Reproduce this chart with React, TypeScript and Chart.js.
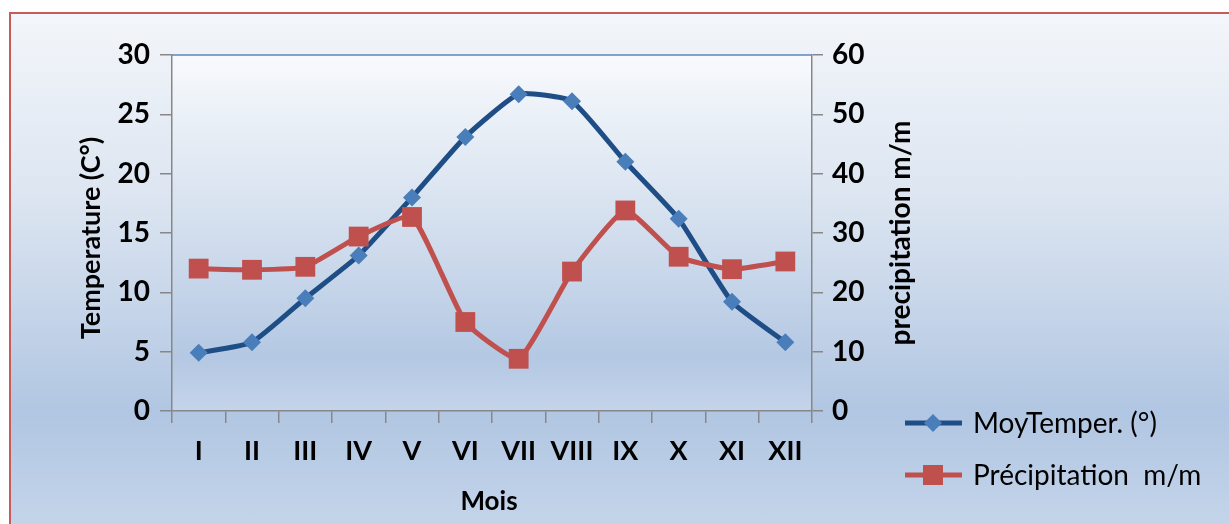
import React, { useEffect, useRef } from "react";
import { Chart, registerables } from "chart.js";

Chart.register(...registerables);

const months = ["I", "II", "III", "IV", "V", "VI", "VII", "VIII", "IX", "X", "XI", "XII"];
const temperature = [4.9, 5.8, 9.5, 13.1, 18.0, 23.1, 26.7, 26.1, 21.0, 16.2, 9.2, 5.8];
const precipitation = [24.0, 23.8, 24.3, 29.4, 32.7, 15.0, 8.8, 23.5, 33.8, 26.0, 23.9, 25.2];
const tempLabel = "MoyTemper. (°)";
const precipLabel = "Précipitation  m/m";
const leftTitle = "Temperature (C°)";
const rightTitle = "precipitation m/m";
const xTitle = "Mois";

const FONT = "Lato, 'Open Sans', sans-serif";
const TEMP_LINE = "#1F4E86";
const TEMP_MARK = "#4A7EBB";
const PRECIP = "#C0504D";
const AXIS = "#878787";

const decorPlugin = {
  id: "decor",
  beforeDraw(chart: any) {
    const { ctx, chartArea } = chart;
    const { left, top, right, bottom } = chartArea;
    const g = ctx.createLinearGradient(0, top, 0, bottom);
    g.addColorStop(0, "#F8FAFD");
    g.addColorStop(0.45, "#D6E1EF");
    g.addColorStop(0.85, "#B4C8E3");
    g.addColorStop(1, "#C4D4EA");
    ctx.save();
    ctx.fillStyle = g;
    ctx.fillRect(left, top, right - left, bottom - top);
    ctx.strokeStyle = "#5B86C0";
    ctx.lineWidth = 1.5;
    ctx.beginPath();
    ctx.moveTo(left, top);
    ctx.lineTo(right, top);
    ctx.stroke();
    ctx.restore();
  },
  afterDraw(chart: any) {
    const { ctx, chartArea } = chart;
    const midY = (chartArea.top + chartArea.bottom) / 2;
    ctx.save();
    ctx.fillStyle = "#000";
    ctx.textAlign = "center";
    ctx.textBaseline = "middle";
    ctx.font = `bold 27px ${FONT}`;
    ctx.save();
    ctx.translate(91, midY + 5);
    ctx.rotate(-Math.PI / 2);
    ctx.fillText(leftTitle, 0, 0);
    ctx.restore();
    ctx.font = `bold 28px ${FONT}`;
    ctx.save();
    ctx.translate(901, midY);
    ctx.rotate(-Math.PI / 2);
    ctx.fillText(rightTitle, 0, 0);
    ctx.restore();
    ctx.font = `bold 26px ${FONT}`;
    ctx.fillText(xTitle, (chartArea.left + chartArea.right) / 2 - 3, 502);

    // legend
    const rows = [
      { label: chart.data.datasets[0].label, line: TEMP_LINE, mark: TEMP_MARK, style: "diamond", y: 423 },
      { label: chart.data.datasets[1].label, line: PRECIP, mark: PRECIP, style: "square", y: 475 },
    ];
    ctx.font = `28px ${FONT}`;
    ctx.textAlign = "left";
    for (const r of rows) {
      ctx.strokeStyle = r.line;
      ctx.lineWidth = 5;
      ctx.beginPath();
      ctx.moveTo(905, r.y);
      ctx.lineTo(962, r.y);
      ctx.stroke();
      ctx.fillStyle = r.mark;
      const cx = 933;
      if (r.style === "diamond") {
        ctx.beginPath();
        ctx.moveTo(cx, r.y - 9);
        ctx.lineTo(cx + 9, r.y);
        ctx.lineTo(cx, r.y + 9);
        ctx.lineTo(cx - 9, r.y);
        ctx.closePath();
        ctx.fill();
      } else {
        ctx.fillRect(cx - 10, r.y - 10, 20, 20);
      }
      ctx.fillStyle = "#000";
      ctx.fillText(r.label, 973, r.y + 1);
    }
    ctx.restore();
  },
};

export default function App() {
  const canvasRef = useRef<HTMLCanvasElement>(null);

  useEffect(() => {
    if (!canvasRef.current) return;
    const tickFont = { family: FONT, size: 28, weight: "bold" as const };
    const xFont = { family: FONT, size: 27, weight: "bold" as const };
    const chart = new Chart(canvasRef.current, {
      type: "line",
      data: {
        labels: months,
        datasets: [
          {
            label: tempLabel,
            data: temperature,
            yAxisID: "y",
            borderColor: TEMP_LINE,
            borderWidth: 5,
            backgroundColor: TEMP_MARK,
            pointBackgroundColor: TEMP_MARK,
            pointBorderColor: TEMP_MARK,
            pointStyle: "rectRot",
            pointRadius: 9,
            pointBorderWidth: 0,
            tension: 0.15,
            order: 1,
          },
          {
            label: precipLabel,
            data: precipitation,
            yAxisID: "y1",
            borderColor: PRECIP,
            borderWidth: 5,
            backgroundColor: PRECIP,
            pointBackgroundColor: PRECIP,
            pointBorderColor: PRECIP,
            pointStyle: "rect",
            pointRadius: 14,
            pointBorderWidth: 0,
            tension: 0.15,
            order: 0,
          },
        ],
      },
      options: {
        responsive: false,
        animation: false,
        layout: { padding: { top: 55, right: 307, bottom: 0, left: 0 } },
        plugins: { legend: { display: false }, tooltip: { enabled: false } },
        scales: {
          x: {
            type: "category",
            offset: true,
            grid: { offset: true, drawOnChartArea: false, drawTicks: true, tickLength: 12, color: AXIS, lineWidth: 1.5 },
            border: { display: true, color: AXIS, width: 1.5 },
            ticks: { font: xFont, color: "#000", padding: 12, maxRotation: 0, autoSkip: false },
            afterFit: (s: any) => { s.height = 113; },
          },
          y: {
            type: "linear",
            position: "left",
            min: 0,
            max: 30,
            grid: { drawOnChartArea: false, drawTicks: true, tickLength: 12, color: AXIS, lineWidth: 1.5 },
            border: { display: true, color: AXIS, width: 1.5 },
            ticks: { stepSize: 5, font: tickFont, color: "#000", padding: 10 },
            afterFit: (s: any) => { s.width = 172; },
          },
          y1: {
            type: "linear",
            position: "right",
            min: 0,
            max: 60,
            grid: { drawOnChartArea: false, drawTicks: true, tickLength: 11, color: AXIS, lineWidth: 1.5 },
            border: { display: true, color: AXIS, width: 1.5 },
            ticks: { stepSize: 10, font: tickFont, color: "#000", padding: 9 },
            afterFit: (s: any) => { s.width = 110; },
          },
        },
      },
      plugins: [decorPlugin],
    });
    return () => chart.destroy();
  }, []);

  return (
    <div style={{ position: "absolute", left: 0, top: 0, width: 1229, height: 524, background: "#fff", overflow: "hidden" }}>
      <div
        style={{
          position: "absolute",
          left: 9,
          top: 12,
          width: 1229,
          height: 524,
          borderLeft: "2px solid #C65B59",
          borderTop: "2px solid #C65B59",
          background: "linear-gradient(to bottom, #F3F6FA 0%, #DCE5F1 35%, #B1C6E2 76%, #C6D6EB 100%)",
        }}
      />
      <canvas ref={canvasRef} width={1229} height={524} style={{ position: "absolute", left: 0, top: 0 }} />
    </div>
  );
}
